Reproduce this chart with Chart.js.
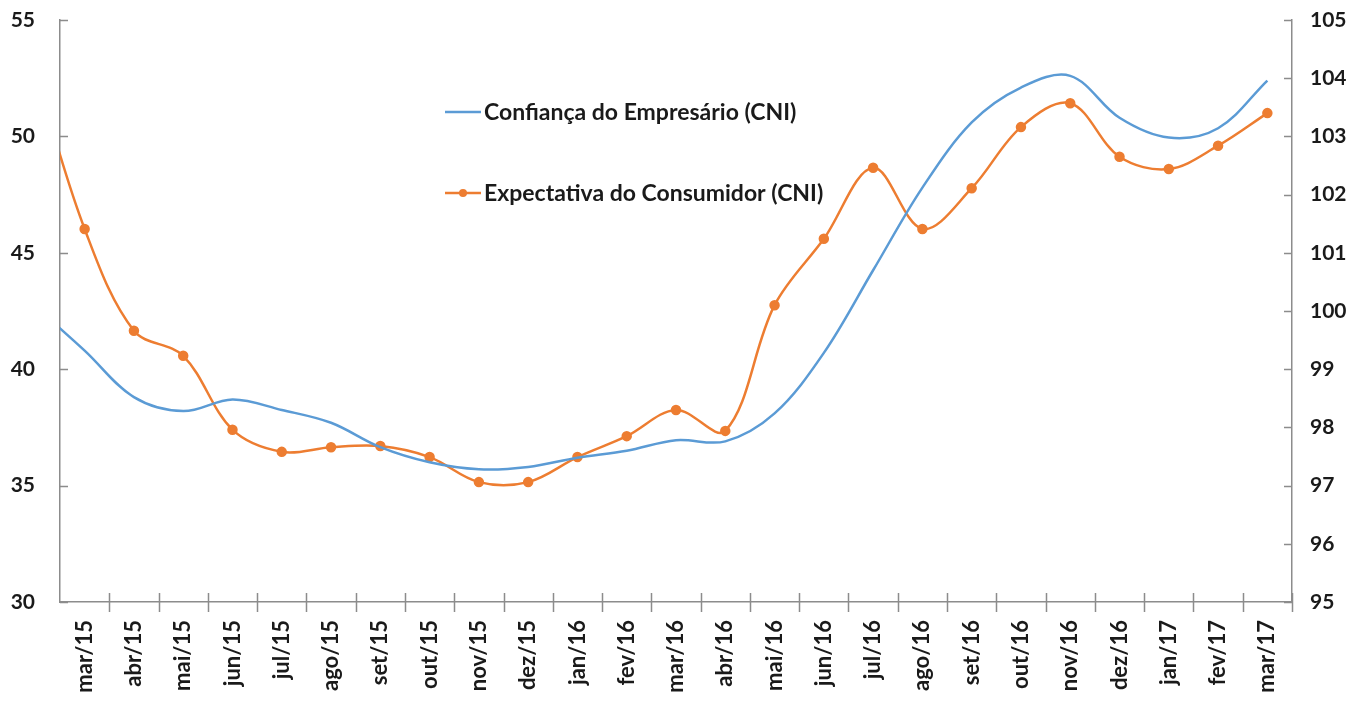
<!DOCTYPE html>
<html>
<head>
<meta charset="utf-8">
<script src="https://cdn.jsdelivr.net/npm/chart.js@4.4.1/dist/chart.umd.min.js"></script>
<style>
  html, body { margin: 0; padding: 0; background: #fff; }
  #wrap { width: 1357px; height: 710px; }
</style>
</head>
<body>
<div id="wrap"><canvas id="chart"></canvas></div>
<script>
// fev/15 sits just left of the axis: only its line segment shows up, clipped at the axis
const meses = ['fev/15', 'mar/15', 'abr/15', 'mai/15', 'jun/15', 'jul/15', 'ago/15', 'set/15', 'out/15', 'nov/15', 'dez/15',
    'jan/16', 'fev/16', 'mar/16', 'abr/16', 'mai/16', 'jun/16', 'jul/16', 'ago/16', 'set/16', 'out/16', 'nov/16', 'dez/16',
    'jan/17', 'fev/17', 'mar/17'];
const confiancaEmpresario = [42.7, 40.8, 38.8, 38.2, 38.7, 38.25, 37.7, 36.65, 36.0, 35.7, 35.8,
    36.2, 36.5, 36.95, 36.9, 38.1, 40.7, 44.25, 47.8, 50.6, 52.1, 52.6, 50.8,
    49.95, 50.35, 52.4];
const expectativaConsumidor = [104.1, 101.41, 99.66, 99.23, 97.96, 97.58, 97.66, 97.68, 97.49, 97.06, 97.06,
    97.49, 97.85, 98.3, 97.94, 100.1, 101.24, 102.46, 101.41, 102.11, 103.16, 103.57, 102.65,
    102.44, 102.84, 103.4];
const ticksEsquerda = [30, 35, 40, 45, 50, 55];
const ticksDireita = [95, 96, 97, 98, 99, 100, 101, 102, 103, 104, 105];

const AZUL = '#5B9BD5';
const LARANJA = '#ED7D31';
const EIXO = '#8c8c8c';

Chart.defaults.font.family = 'Lato, "Open Sans", sans-serif';
Chart.defaults.color = '#1a1a1a';

// Excel style tick marks: inward on the value axes, crossing the category axis
const axisTicks = {
    id: 'axisTicks',
    afterDraw(chart) {
        const { ctx, chartArea: a, scales } = chart;
        ctx.save();
        ctx.strokeStyle = EIXO;
        ctx.lineWidth = 1.5;
        ctx.beginPath();
        scales.y.ticks.forEach((t, i) => {
            const y = Math.round(scales.y.getPixelForTick(i)) + 0.5;
            ctx.moveTo(a.left, y);
            ctx.lineTo(a.left + 8, y);
        });
        scales.y1.ticks.forEach((t, i) => {
            const y = Math.round(scales.y1.getPixelForTick(i)) + 0.5;
            ctx.moveTo(a.right - 8, y);
            ctx.lineTo(a.right, y);
        });
        const x = scales.x;
        const n = x.ticks.length;
        const step = (a.right - a.left) / n;
        for (let i = 1; i <= n; i++) {
            const px = Math.round(x.getPixelForTick(i - 1) + step / 2) + 0.5;
            ctx.moveTo(px, a.bottom - 9);
            ctx.lineTo(px, a.bottom + 10);
        }
        ctx.stroke();
        ctx.restore();
    },
};

// legend sits inside the plot area
const insideLegend = {
    id: 'insideLegend',
    afterDatasetsDraw(chart) {
        const { ctx } = chart;
        const ds = chart.data.datasets;
        const rows = [{ y: 112 }, { y: 193 }];
        ctx.save();
        ctx.font = 'bold 23px Lato, "Open Sans", sans-serif';
        ctx.textBaseline = 'middle';
        ctx.textAlign = 'left';
        rows.forEach((r, i) => {
            ctx.strokeStyle = ds[i].borderColor;
            ctx.lineWidth = 2.5;
            ctx.beginPath();
            ctx.moveTo(445, r.y);
            ctx.lineTo(481, r.y);
            ctx.stroke();
            if (ds[i].pointRadius > 0) {
                ctx.fillStyle = ds[i].borderColor;
                ctx.beginPath();
                ctx.arc(463, r.y, 4, 0, Math.PI * 2);
                ctx.fill();
            }
            ctx.fillStyle = '#1a1a1a';
            ctx.fillText(ds[i].label, 484, r.y + 1);
        });
        ctx.restore();
    },
};

// keep the tick label padding from pushing the plot area down
function fixVertical(width) {
    return scale => {
        scale.width = width;
        scale.paddingTop = 8;
        scale.paddingBottom = 8;
    };
}

new Chart(document.getElementById('chart'), {
    type: 'line',
    data: {
        labels: meses,
        datasets: [
            {
                label: 'Confiança do Empresário (CNI)',
                data: confiancaEmpresario,
                yAxisID: 'y',
                borderColor: AZUL,
                backgroundColor: AZUL,
                borderWidth: 2.5,
                pointRadius: 0,
                tension: 0.35,
            },
            {
                label: 'Expectativa do Consumidor (CNI)',
                data: expectativaConsumidor,
                yAxisID: 'y1',
                borderColor: LARANJA,
                backgroundColor: LARANJA,
                borderWidth: 2.5,
                pointRadius: 4,
                pointBackgroundColor: LARANJA,
                pointBorderColor: LARANJA,
                tension: 0.35,
            },
        ],
    },
    options: {
        responsive: true,
        maintainAspectRatio: false,
        animation: false,
        layout: { padding: { top: 20, left: 0, right: 0, bottom: 0 } },
        plugins: {
            legend: { display: false },
            tooltip: { enabled: false },
        },
        scales: {
            x: {
                min: 'mar/15',
                offset: true,
                grid: { display: false, drawTicks: false },
                border: { display: true, color: EIXO, width: 1.5 },
                ticks: {
                    autoSkip: false,
                    minRotation: 90,
                    maxRotation: 90,
                    padding: 18,
                    font: { size: 22, weight: 'bold' },
                },
                afterFit(scale) { scale.height = 108; },
            },
            y: {
                position: 'left',
                min: 30,
                max: 55,
                grid: { display: false, drawTicks: false },
                border: { display: true, color: EIXO, width: 1.5 },
                afterBuildTicks(scale) { scale.ticks = ticksEsquerda.map(v => ({ value: v })); },
                ticks: { padding: 25, font: { size: 21, weight: 'bold' } },
                afterFit: fixVertical(60),
            },
            y1: {
                position: 'right',
                min: 95,
                max: 105,
                grid: { display: false, drawTicks: false },
                border: { display: true, color: EIXO, width: 1.5 },
                afterBuildTicks(scale) { scale.ticks = ticksDireita.map(v => ({ value: v })); },
                ticks: { padding: 18, font: { size: 21, weight: 'bold' } },
                afterFit: fixVertical(65),
            },
        },
    },
    plugins: [axisTicks, insideLegend],
});
</script>
</body>
</html>
